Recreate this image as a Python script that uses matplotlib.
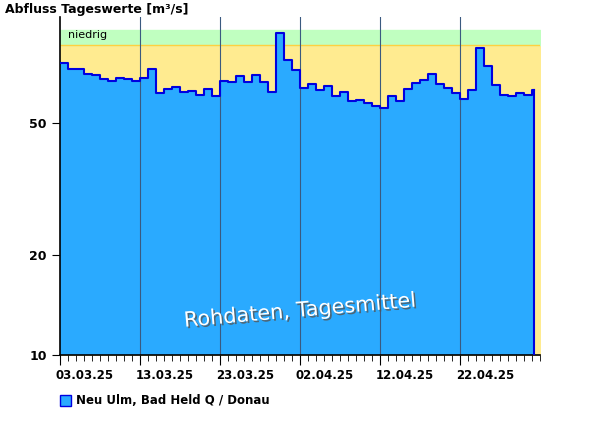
import matplotlib
matplotlib.use("Agg")
import matplotlib.pyplot as plt
import matplotlib.patheffects as pe
import numpy as np

values = [75.6, 72.7, 72.7, 70.1, 69.6, 67.7, 66.7, 68.1, 67.7, 66.7,
          68.1, 72.5, 61.4, 63.1, 64.0, 61.8, 62.3, 60.6, 63.1, 60.2,
          66.7, 66.3, 69.1, 66.3, 69.6, 66.3, 61.8, 93.1, 77.4, 72.0,
          63.6, 65.4, 62.7, 64.5, 60.2, 61.8, 58.1, 58.5, 57.3, 56.1,
          55.3, 60.2, 58.1, 63.1, 65.8, 67.2, 70.1, 65.4, 63.6, 61.4,
          59.1, 62.7, 83.9, 74.1, 64.9, 60.6, 60.2, 61.4, 60.6, 62.7]
widths = [1.0] * 59 + [0.25]
tick_labels = ["03.03.25", "13.03.25", "23.03.25", "02.04.25", "12.04.25", "22.04.25"]
low_threshold = 85.9
green_top = 95.3

fig = plt.figure(figsize=(6.0, 4.26), dpi=100)
ax = fig.add_axes([60/600, 1-355/426, 480/600, (355-17)/426])
ax.set_yscale("log")
ax.set_ylim(10, 104.3)
ax.set_xlim(0, 60)

ax.fill_between([0, 60], 10, low_threshold, color="#ffeb90", zorder=0)
ax.fill_between([0, 60], low_threshold, green_top, color="#c0ffc0", zorder=0)
ax.axhline(low_threshold, color="#ffd040", lw=1, zorder=1)
ax.text(1, 92, "niedrig", fontsize=8, va="center", zorder=5)

x = np.concatenate([[0], np.cumsum(widths)])
ax.bar(x[:-1], values, width=widths, align="edge", color="#2aaaff", lw=0, zorder=2)
ys = values + [values[-1]]
ax.step(x, ys, where="post", color="#0000e0", lw=1.5, zorder=3)
ax.plot([x[-1], x[-1]], [10, values[-1]], color="#0000e0", lw=1.5, zorder=3)

for d in range(10, 60, 10):
    ax.axvline(d, color="#3a5a80", lw=0.8, zorder=2.5)

ax.set_yticks([10, 20, 50])
ax.set_yticklabels(["10", "20", "50"], fontweight="bold", fontsize=9)
ax.yaxis.set_minor_locator(matplotlib.ticker.NullLocator())
ax.set_xticks(range(0, 60, 10))
ax.set_xticklabels(tick_labels, fontweight="bold", fontsize=8.5, ha="left")
for lab in ax.get_xticklabels():
    lab.set_x(lab.get_position()[0])
ax.set_xticks(range(0, 61), minor=True)
ax.tick_params(axis="x", which="major", length=7, direction="out", pad=3)
ax.tick_params(axis="x", which="minor", length=4, direction="out")
ax.tick_params(axis="y", which="major", length=6, direction="out")
import matplotlib.transforms as mt
off = mt.ScaledTranslation(-3/72, 0, fig.dpi_scale_trans)
for lab in ax.get_xticklabels():
    lab.set_transform(lab.get_transform() + off)
for s in ["top", "right"]:
    ax.spines[s].set_visible(False)
ax.spines["left"].set_linewidth(1.2)
ax.spines["bottom"].set_linewidth(1.2)

fig.text(5/600, 1-10/426, "Abfluss Tageswerte [m³/s]", fontweight="bold", fontsize=9, va="center")
ax.text(30, 13.6, "Rohdaten, Tagesmittel", fontsize=15, color="white", rotation=5,
        ha="center", va="center", zorder=6,
        path_effects=[pe.withSimplePatchShadow(offset=(1.2, -1.2), shadow_rgbFace="#555555", alpha=0.8)])

fig.patches.append(matplotlib.patches.Rectangle((60/600, 1-406/426), 11/600, 11/426,
                   transform=fig.transFigure, facecolor="#2aaaff", edgecolor="#0000e0", lw=1))
fig.text(76/600, 1-400/426, "Neu Ulm, Bad Held Q / Donau", fontweight="bold", fontsize=8.5, va="center")

fig.savefig("out.png", dpi=100)
